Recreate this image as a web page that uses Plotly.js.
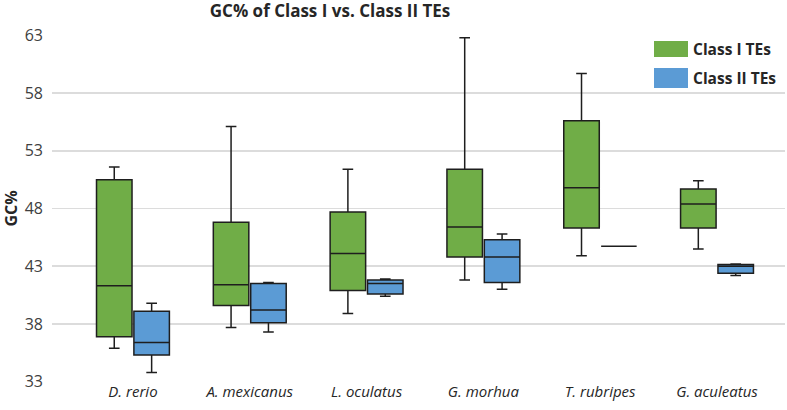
<!DOCTYPE html>
<html><head><meta charset="utf-8">
<script src="https://cdn.plot.ly/plotly-3.0.1.min.js"></script>
<style>html,body{margin:0;padding:0;background:#fff}#chart{width:787px;height:410px}</style>
</head><body><div id="chart"></div>
<script>
const species = ["D. rerio", "A. mexicanus", "L. oculatus", "G. morhua", "T. rubripes", "G. aculeatus"];
const tickLabels = ["<i>D. rerio</i>", "<i>A. mexicanus</i>", "<i>L. oculatus</i>", "<i>G. morhua</i>", "<i>T. rubripes</i>", "<i>G. aculeatus</i>"];
// Class I TEs
const c1Lower  = [35.9, 37.7, 38.9, 41.8, 43.9, 44.5];
const c1Q1     = [36.9, 39.6, 40.9, 43.8, 46.3, 46.3];
const c1Median = [41.3, 41.4, 44.1, 46.4, 49.8, 48.4];
const c1Q3     = [50.5, 46.8, 47.7, 51.4, 55.6, 49.7];
const c1Upper  = [51.6, 55.1, 51.4, 62.8, 59.7, 50.4];
// Class II TEs
const c2Lower  = [33.8, 37.3, 40.4, 41.0, 44.74, 42.2];
const c2Q1     = [35.3, 38.1, 40.6, 41.6, 44.74, 42.4];
const c2Median = [36.4, 39.2, 41.5, 43.8, 44.74, 43.0];
const c2Q3     = [39.1, 41.5, 41.8, 45.3, 44.74, 43.15];
const c2Upper  = [39.8, 41.6, 41.9, 45.8, 44.74, 43.2];

const seriesNames = ["Class I TEs", "Class II TEs"];
const fills = ["#70AD47", "#5B9BD5"];
const edge = "#1e1e1e";

const traces = [
  {type:"box", name:seriesNames[0], x:species, q1:c1Q1, median:c1Median, q3:c1Q3,
   lowerfence:c1Lower, upperfence:c1Upper, fillcolor:fills[0],
   line:{color:edge, width:1.5}, whiskerwidth:0.3, boxpoints:false, showlegend:false, hoverinfo:"y"},
  {type:"box", name:seriesNames[1], x:species, q1:c2Q1, median:c2Median, q3:c2Q3,
   lowerfence:c2Lower, upperfence:c2Upper, fillcolor:fills[1],
   line:{color:edge, width:1.5}, whiskerwidth:0.3, boxpoints:false, showlegend:false, hoverinfo:"y"}
];

const layout = {
  width:787, height:410,
  margin:{l:52, r:2, t:35, b:28},
  paper_bgcolor:"#fff", plot_bgcolor:"#fff",
  font:{family:"Open Sans, sans-serif", color:"#404040"},
  title:{text:"<b>GC% of Class I vs. Class II TEs</b>", x:330/787, xanchor:"center", y:0.972, yanchor:"middle",
         font:{size:17, color:"#262626", family:"Open Sans, sans-serif"}},
  boxmode:"group", boxgap:0.36, boxgroupgap:0.05,
  xaxis:{type:"category", range:[-0.693, 5.582], tickvals:species, ticktext:tickLabels,
         showgrid:false, zeroline:false, showline:false, ticks:"", ticklabelstandoff:-1,
         tickfont:{size:15, color:"#262626"}},
  yaxis:{range:[32.97, 63.03], tick0:33, dtick:5, showgrid:true, gridcolor:"#dcdcdc", gridwidth:1.5,
         zeroline:false, showline:false, ticks:"", ticklabelstandoff:8,
         tickfont:{size:16, color:"#404040"},
         title:{text:"<b>GC%</b>", font:{size:16, color:"#262626"}, standoff:4}},
  shapes:[
    {type:"rect", xref:"paper", yref:"paper", x0:(654-52)/733, x1:(688-52)/733, y0:(382-57)/347, y1:(382-41)/347,
     fillcolor:fills[0], line:{width:0}},
    {type:"rect", xref:"paper", yref:"paper", x0:(654-52)/733, x1:(688-52)/733, y0:(382-88)/347, y1:(382-68)/347,
     fillcolor:fills[1], line:{width:0}}
  ],
  annotations:[
    {xref:"paper", yref:"paper", x:(691-52)/733, y:(382-49)/347, xanchor:"left", yanchor:"middle", showarrow:false,
     text:"<b>"+seriesNames[0]+"</b>", font:{size:15.5, color:"#262626"}},
    {xref:"paper", yref:"paper", x:(691-52)/733, y:(382-78)/347, xanchor:"left", yanchor:"middle", showarrow:false,
     text:"<b>"+seriesNames[1]+"</b>", font:{size:15.5, color:"#262626"}}
  ]
};
Plotly.newPlot("chart", traces, layout, {displayModeBar:false, staticPlot:true});
</script></body></html>
